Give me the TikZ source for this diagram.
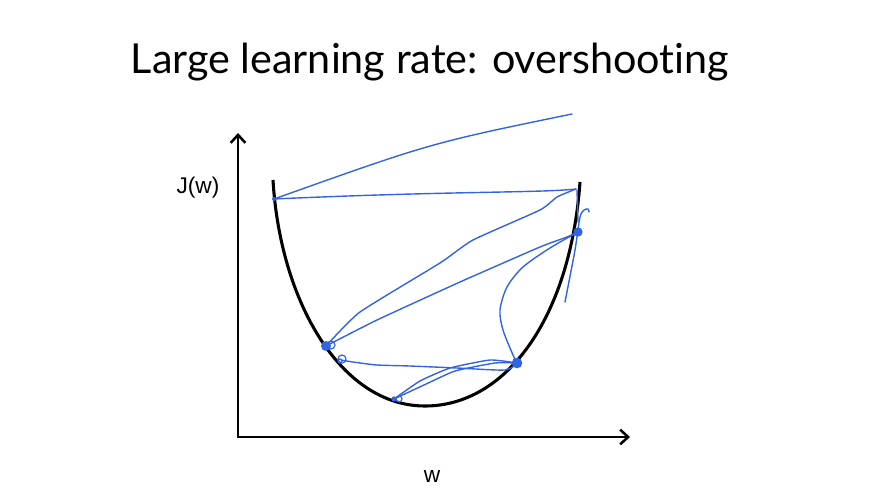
\documentclass[tikz,border=0pt]{standalone}
\usepackage{fontspec}
\setmainfont{Lato}[Ligatures=NoCommon]
\newfontfamily\labelfont{Liberation Sans}
\usetikzlibrary{arrows.meta}
\definecolor{pen}{RGB}{50,100,225}

\begin{document}
\begin{tikzpicture}[
    x=0.75pt, y=-0.75pt,
    axis/.style={line width=1.9pt, {Straight Barb[length=6pt,width=11pt]}-{Straight Barb[length=6pt,width=11pt]}},
    bowl/.style={line width=2.3pt},
    stroke/.style={draw=pen, line width=1.05pt, line cap=round, line join=round},
    blob/.style={circle, fill=pen, inner sep=0pt, minimum size=#1},
    ring/.style={circle, draw=pen, line width=0.9pt, inner sep=0pt, minimum size=#1}
  ]
  \useasboundingbox (0,0) rectangle (870,492);

  \node[font=\fontsize{31}{36}\selectfont] (title) at (430,62) {Large learning rate: overshooting};
  \node[font=\labelfont\fontsize{17}{19}\selectfont] (jw) at (198,188) {J(w)};
  \node[font=\labelfont\fontsize{17}{19}\selectfont] (w) at (432,477) {w};

  % axes
  \coordinate (ytip) at (238,133);
  \coordinate (origin) at (238,437);
  \coordinate (xtip) at (630,437);
  \draw[axis] (ytip) -- (origin) -- (xtip);

  % cost curve
  \coordinate (ltop) at (273,180);
  \coordinate (minpt) at (425,406);
  \coordinate (rtop) at (580,182);
  \draw[bowl] (ltop) .. controls (280,300) and (340,406) .. (minpt)
              .. controls (505,406) and (570,320) .. (rtop);

  % steps
  \coordinate (s0) at (274,199);
  \coordinate (s1) at (572,114);
  \coordinate (s2) at (576,189);
  \coordinate (s3) at (326,346);
  \coordinate (s4) at (578,232);
  \coordinate (s5) at (517,363);
  \coordinate (s6) at (341,360);
  \coordinate (s7) at (394,399);
  \coordinate (t0) at (565,302);
  \coordinate (t1) at (589,212);
  \coordinate (u0) at (577,190);
  \coordinate (u1) at (578,222);

  \draw[stroke] (s0) .. controls (431,143) .. (s1);
  \draw[stroke] (s0) .. controls (450,191) and (540,193) .. (s2);
  \draw[stroke] plot[smooth, tension=0.3] coordinates {(s2) (557,197) (540,210) (473,240) (440,263) (360,312) (s3)};
  \draw[stroke] plot[smooth, tension=0.3] coordinates {(s3) (377,320) (460,282) (540,247) (567,237) (s4)};
  \draw[stroke] plot[smooth] coordinates {(s4) (550,248) (523,267) (507,287) (500,310) (503,330) (513,355) (s5)};
  \draw[stroke] plot[smooth, tension=0.4] coordinates {(s6) (353,362) (377,365) (410,366) (457,368) (505,370) (s5)};
  \draw[stroke] plot[smooth, tension=0.3] coordinates {(s7) (420,381) (450,368) (490,360) (s5)};
  \draw[stroke] plot[smooth, tension=0.3] coordinates {(s7) (424,385) (455,371) (495,363) (s5)};
  \draw[stroke] plot[smooth, tension=0.4] coordinates {(t0) (575,250) (580,217) (584,210) (588,209) (t1)};
  \draw[stroke] (u0) -- (u1);

  % marks
  \node[blob=3pt] (d0) at (s0) {};
  \node[blob=7.5pt] (d3) at (s3) {};
  \node[blob=7pt] (d4) at (s4) {};
  \node[blob=8pt] (d5) at (s5) {};
  \node[blob=4pt] (d7) at (s7) {};
  \node[ring=6pt] (r3) at (331,345) {};
  \node[ring=6pt] (r6) at (342,359) {};
  \node[ring=3pt] (r6b) at (340,361) {};
  \node[ring=4.5pt] (r7) at (399,399) {};
\end{tikzpicture}
\end{document}
